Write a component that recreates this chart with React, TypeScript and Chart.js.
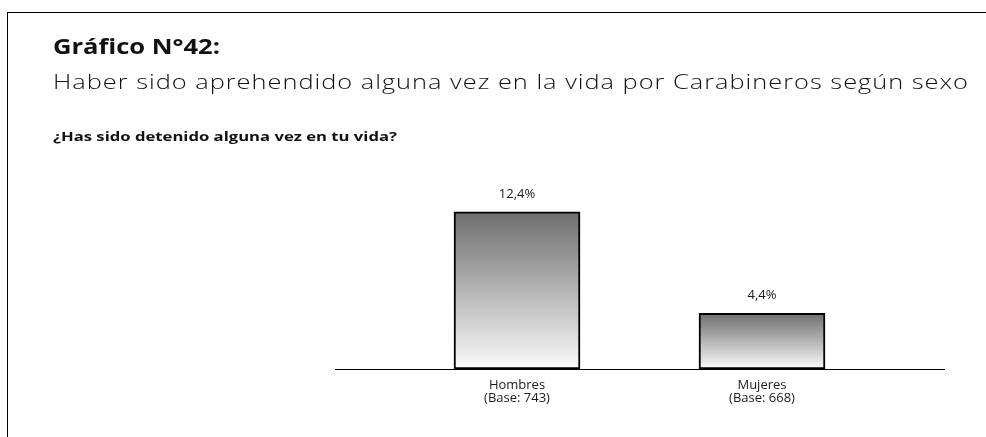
import React, { useEffect, useRef } from 'react';
import { Chart, registerables } from 'chart.js';

Chart.register(...registerables);

const TITLE = 'Gráfico N°42:';
const SUBTITLE = 'Haber sido aprehendido alguna vez en la vida por Carabineros según sexo';
const QUESTION = '¿Has sido detenido alguna vez en tu vida?';

const categories = ['Hombres', 'Mujeres'];
const bases = ['(Base: 743)', '(Base: 668)'];
const values = [12.4, 4.4];
const yMax = 15;

const FONT = "'Open Sans', 'DejaVu Sans', sans-serif";

function fmt(v: number) {
  return v.toFixed(1).replace('.', ',') + '%';
}

const valueLabels = {
  id: 'valueLabels',
  afterDatasetsDraw(chart: any) {
    const { ctx } = chart;
    const meta = chart.getDatasetMeta(0);
    ctx.save();
    ctx.font = `13px ${FONT}`;
    ctx.fillStyle = '#1a1a1a';
    ctx.textAlign = 'center';
    ctx.textBaseline = 'alphabetic';
    meta.data.forEach((bar: any, i: number) => {
      ctx.fillText(fmt(values[i]), bar.x, bar.y - 14);
    });
    ctx.restore();
  },
};

function FitText({ text, target, spacing, style }: { text: string; target: number; spacing: number; style: any }) {
  const ref = useRef<HTMLSpanElement>(null);
  useEffect(() => {
    const el = ref.current;
    if (!el) return;
    el.style.transform = 'none';
    el.style.letterSpacing = spacing + 'px';
    const w = el.getBoundingClientRect().width - spacing;
    el.style.transform = `scaleX(${target / w})`;
  }, [text, target, spacing]);
  return (
    <span
      ref={ref}
      style={{
        position: 'absolute',
        whiteSpace: 'nowrap',
        lineHeight: 1,
        fontFamily: FONT,
        color: '#111',
        transformOrigin: 'left top',
        ...style,
      }}
    >
      {text}
    </span>
  );
}

export default function App() {
  const canvasRef = useRef<HTMLCanvasElement>(null);

  useEffect(() => {
    const canvas = canvasRef.current;
    if (!canvas) return;
    const chart = new Chart(canvas, {
      type: 'bar',
      data: {
        datasets: [
          {
            data: values.map((v, i) => ({ x: i, y: v })),
            barThickness: 126,
            borderColor: '#000',
            borderWidth: 2,
            borderSkipped: false,
            backgroundColor: (c: any) => {
              const ch = c.chart;
              const ys = ch.scales && ch.scales.y;
              if (!ys || c.type !== 'data' || !c.parsed) return '#aaa';
              const top = ys.getPixelForValue(c.parsed.y);
              const bottom = ys.getPixelForValue(0);
              if (!isFinite(top) || !isFinite(bottom)) return '#aaa';
              const g = ch.ctx.createLinearGradient(0, top, 0, bottom);
              g.addColorStop(0, '#6e6e6e');
              g.addColorStop(1, '#fbfbfb');
              return g;
            },
          } as any,
        ],
      },
      options: {
        responsive: false,
        animation: false,
        layout: { padding: { left: 335, right: 42, top: 179, bottom: 18 } },
        plugins: {
          legend: { display: false },
          tooltip: { enabled: false },
          title: { display: false },
        },
        scales: {
          x: {
            type: 'linear',
            min: -0.743,
            max: 1.743,
            offset: false,
            bounds: 'data',
            grid: { display: false, drawTicks: false },
            border: { display: true, color: '#000', width: 1 },
            afterBuildTicks: (s: any) => {
              s.ticks = categories.map((_, i) => ({ value: i }));
            },
            afterFit: (s: any) => {
              s.height = 50;
            },
            ticks: {
              padding: 10,
              color: '#1a1a1a',
              maxRotation: 0,
              autoSkip: false,
              font: { size: 13, lineHeight: 1, family: FONT },
              callback: (v: any) => {
                const i = Math.round(Number(v));
                return [categories[i], bases[i]];
              },
            },
          } as any,
          y: { display: false, min: 0, max: yMax },
        },
      },
      plugins: [valueLabels],
    });
    return () => chart.destroy();
  }, []);

  return (
    <div
      style={{
        position: 'absolute',
        left: 0,
        top: 0,
        width: 986,
        height: 437,
        overflow: 'hidden',
        background: '#fff',
      }}
    >
      <div
        style={{
          position: 'absolute',
          left: 7,
          top: 12,
          width: 1000,
          height: 500,
          borderLeft: '1px solid #000',
          borderTop: '1px solid #000',
        }}
      />
      <canvas
        ref={canvasRef}
        width={986}
        height={437}
        style={{ position: 'absolute', left: 0, top: 0, width: 986, height: 437, display: 'block' }}
      />
      <FitText text={TITLE} target={167} spacing={0} style={{ left: 53, top: 33.5, fontSize: 22, fontWeight: 700 }} />
      <FitText text={SUBTITLE} target={915} spacing={0.8} style={{ left: 53, top: 71.2, fontSize: 20.5, fontWeight: 300 }} />
      <FitText text={QUESTION} target={344} spacing={0} style={{ left: 53, top: 129.5, fontSize: 13, fontWeight: 700 }} />
    </div>
  );
}
